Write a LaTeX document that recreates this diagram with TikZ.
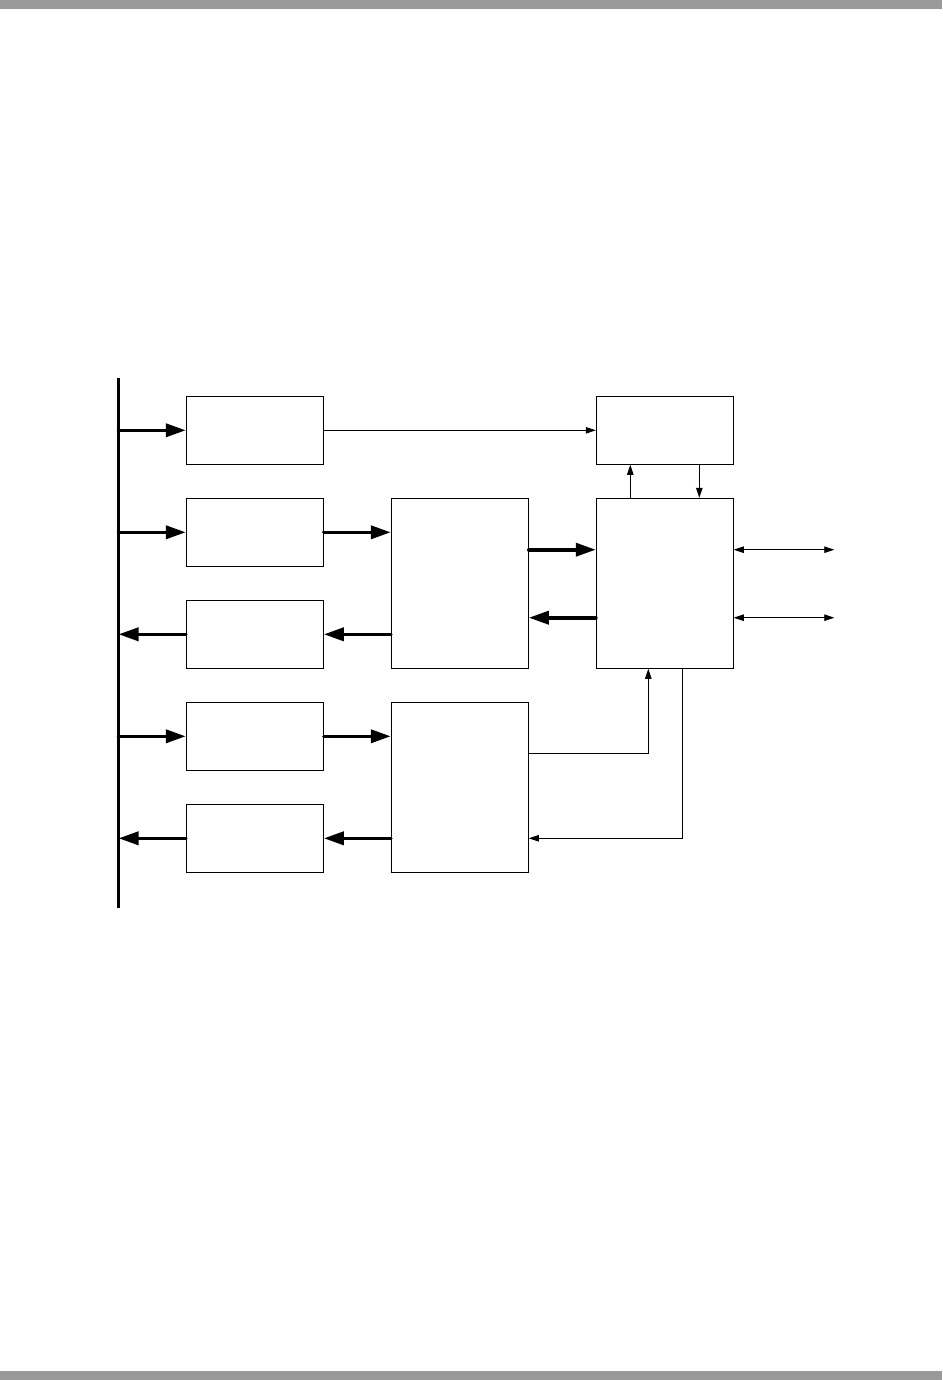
\documentclass[tikz,border=0pt]{standalone}
\usepackage{xcolor}
\usetikzlibrary{arrows.meta}
\definecolor{barcolor}{RGB}{153,153,153}

\begin{document}
\begin{tikzpicture}[x=1pt,y=-1pt,
    blk/.style={draw, line width=1pt, minimum width=137pt, minimum height=68pt, inner sep=0pt},
    tallblk/.style={blk, minimum height=170pt},
    bigarrow/.style={line width=3.6pt, line cap=round, -{Triangle[length=20pt,width=13pt]}},
    smallarrow/.style={line width=0.8pt, -{Triangle[length=10pt,width=6.5pt]}},
    dblarrow/.style={line width=0.8pt, {Triangle[length=10pt,width=6.5pt]}-{Triangle[length=10pt,width=6.5pt]}}]
        \useasboundingbox (0,0) rectangle (942,1380);
        \fill[barcolor] (0,0) rectangle (942,9);
        \fill[barcolor] (0,1371) rectangle (942,1380);

        % bus on the left
        \coordinate (bustop) at (118.5,378);
        \coordinate (busbot) at (118.5,908);
        \draw[line width=3pt] (bustop) -- (busbot);

        \node[blk] (a1) at (254.8,430.3) {};
        \node[blk] (a2) at (254.8,532.3) {};
        \node[blk] (a3) at (254.8,634.3) {};
        \node[blk] (a4) at (254.8,736.3) {};
        \node[blk] (a5) at (254.8,838.3) {};

        \node[tallblk] (b1) at (459.8,583.3) {};
        \node[tallblk] (b2) at (459.8,787.3) {};

        \node[blk] (c1) at (664.8,430.3) {};
        \node[tallblk] (c2) at (664.8,583.3) {};

        \coordinate (out1) at (834.3,549.7);
        \coordinate (out2) at (834.3,617.7);

        \draw[bigarrow] (a1.west -| bustop) -- (a1.west);
        \draw[bigarrow] (a2.west -| bustop) -- (a2.west);
        \draw[bigarrow] (a3.west) -- (a3.west -| bustop);
        \draw[bigarrow] (a4.west -| bustop) -- (a4.west);
        \draw[bigarrow] (a5.west) -- (a5.west -| bustop);

        \draw[bigarrow] (a2.east) -- (a2.east -| b1.west);
        \draw[bigarrow] (a3.east -| b1.west) -- (a3.east);
        \draw[bigarrow] (a4.east) -- (a4.east -| b2.west);
        \draw[bigarrow] (a5.east -| b2.west) -- (a5.east);

        \draw[bigarrow] (b1.east |- out1) -- (c2.west |- out1);
        \draw[bigarrow] (c2.west |- out2) -- (b1.east |- out2);

        \draw[smallarrow] (a1.east) -- (c1.west);
        \draw[smallarrow] ([xshift=-34.5]c2.north) -- ([xshift=-34.5]c1.south);
        \draw[smallarrow] ([xshift=34.5]c1.south) -- ([xshift=34.5]c2.north);

        \draw[dblarrow] (c2.east |- out1) -- (out1);
        \draw[dblarrow] (c2.east |- out2) -- (out2);

        \draw[smallarrow] ([yshift=34]b2.east) -| ([xshift=-16.5]c2.south);
        \draw[smallarrow] ([xshift=17.5]c2.south) |- ([yshift=-51]b2.east);
\end{tikzpicture}
\end{document}
